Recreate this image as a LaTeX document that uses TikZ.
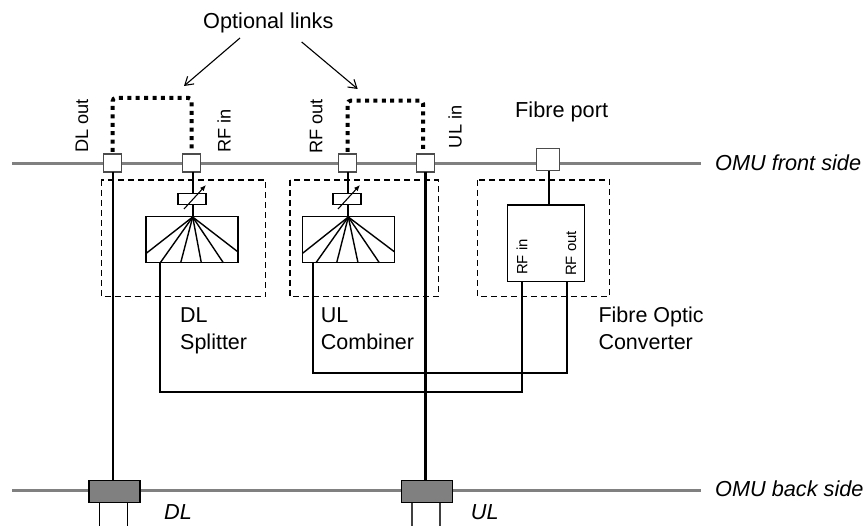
\documentclass[tikz,border=0pt]{standalone}
\usepackage{fontspec}
\setmainfont{Liberation Sans}
\usetikzlibrary{arrows.meta}
\tikzset{
 x=1pt,y=-1pt,
 rail/.style={draw=black!50,line width=3pt},
 wire/.style={draw=black,line width=2.2pt},
 dashbox/.style={draw=black,line width=1.1pt,dash pattern=on 6pt off 4pt},
 link/.style={draw=black,line width=4pt,dash pattern=on 4pt off 4.4pt,rounded corners=3pt},
 lab/.style={inner sep=0pt,anchor=base west,font=\fontsize{21.7}{27}\selectfont},
 rot/.style={inner sep=0pt,rotate=90,anchor=base west,font=\fontsize{18.2}{22}\selectfont},
 small/.style={inner sep=0pt,rotate=90,anchor=base west,font=\fontsize{14.9}{18}\selectfont},
 twoline/.style={inner sep=0pt,align=left,anchor=north west,font=\fontsize{21.5}{27}\selectfont},
 side/.style={lab,font=\fontsize{21.7}{27}\selectfont\itshape},
 port/.style={draw=black!70!white,line width=1.1pt,fill=white,inner sep=0pt,minimum width=18pt,minimum height=18pt},
 atten/.style={draw=black,line width=1.1pt,fill=white,inner sep=0pt,minimum width=28pt,minimum height=11pt},
 splitbox/.style={draw=black,line width=1.6pt,fill=white,inner sep=0pt,minimum width=92pt,minimum height=46pt},
 connector/.style={draw=black,line width=1.1pt,fill=black!50,inner sep=0pt,minimum width=51pt,minimum height=22pt},
 leg/.style={draw=black,line width=1.1pt},
 pointer/.style={draw=black,line width=1.1pt,-{Straight Barb[length=8pt,width=10pt]}},
}
\begin{document}
\begin{tikzpicture}
\useasboundingbox (0,0) rectangle (864,526);
\coordinate (fl) at (12,164); \coordinate (fr) at (700.7,164);
\coordinate (bl) at (12,490); \coordinate (br) at (700.7,490);
\draw[rail] (fl) -- (fr);
\draw[rail] (bl) -- (br);

% dashed enclosures
\draw[dashbox] (101.3,180) rectangle (265.7,296.7);
\draw[dashbox] (290,180) rectangle (438.3,296.7);
\draw[dashbox] (477.7,180) rectangle (609.5,296.7);

% front ports
\node[port] (p1) at (112.8,163) {};
\node[port] (p2) at (191.7,163) {};
\node[port] (p3) at (347.2,163) {};
\node[port] (p4) at (425.5,163) {};
\node[port,minimum width=22.6pt,minimum height=22.6pt] (p5) at (548,159.4) {};

% back connectors
\node[connector] (c1) at (114.5,491.7) {};
\node[connector] (c2) at (426.8,491.7) {};
\coordinate (c1a) at (99.3,526); \coordinate (c1b) at (127.3,526);
\coordinate (c2a) at (412,526); \coordinate (c2b) at (440,526);
\draw[leg] (c1a) -- (c1a |- c1.south);
\draw[leg] (c1b) -- (c1b |- c1.south);
\draw[leg,draw=black!75] (c2a) -- (c2a |- c2.south);
\draw[leg,draw=black!75] (c2b) -- (c2b |- c2.south);

% splitter and combiner
\node[splitbox] (s1) at (191.7,239.7) {};
\node[splitbox] (s2) at (348.3,239.7) {};
\node[atten] (a1) at (192,199) {};
\node[atten] (a2) at (347,199) {};

% converter
\node[draw=black,line width=1.1pt,fill=white,inner sep=0pt,minimum width=76.7pt,minimum height=76.3pt] (conv) at (545.7,243.2) {};

% fans
\coordinate (h1) at (192.7,217);
\coordinate (h2) at (348.3,217);
\foreach \p in {(146,253.5),(160.3,262.7),(180.7,262.7),(201.3,262.7),(223.3,262.7),(237.7,251.7)}
  \draw[black,line width=1.4pt] (h1) -- \p;
\foreach \p in {(302.3,253.5),(316,262.7),(336.7,262.7),(358,262.7),(379.3,262.7),(394.3,251.7)}
  \draw[black,line width=1.4pt] (h2) -- \p;

% wires
\draw[wire] (112.7,172) -- (112.7,481);
\draw[wire] (425.4,172) -- (425.4,481);
\draw[wire] (192.7,172) -- (192.7,193.5);
\draw[wire] (192.7,204.5) -- (192.7,217);
\draw[wire] (348.3,172) -- (348.3,193.5);
\draw[wire] (348.3,204.5) -- (348.3,217);
\draw[wire] (549,171) -- (549,205);
\draw[wire,line join=miter] (160.3,263) -- (160.3,392) -- (522,392) -- (522,281.5);
\draw[wire,line join=miter] (313.3,263) -- (313.3,373) -- (567.3,373) -- (567.3,281.5);

% variable attenuator arrows
\draw[draw=black,line width=1.1pt,-{Latex[length=6pt,width=5pt]}] (184,209) -- (206,185);
\draw[draw=black,line width=1.1pt,-{Latex[length=6pt,width=5pt]}] (338,209) -- (360,185);

% optional links
\draw[link] (112.7,152) -- (112.7,98) -- (191.5,98) -- (191.5,152);
\draw[link] (347.7,152) -- (347.7,100.7) -- (423,100.7) -- (423,152);

% labels
\node[lab] (t0) at (203,29) {Optional links};
\coordinate (a1s) at (240,38); \coordinate (a1e) at (184,86);
\coordinate (a2s) at (301.7,42); \coordinate (a2e) at (357.7,89);
\draw[pointer] (a1s) -- (a1e);
\draw[pointer] (a2s) -- (a2e);
\node[rot] (t1) at (88,153) {DL out};
\node[rot] (t2) at (230.7,153) {RF in};
\node[rot] (t3) at (322.3,154) {RF out};
\node[rot] (t4) at (461.7,148.3) {UL in};
\node[lab] (t5) at (515,118) {Fibre port};
\node[small] (t6) at (527.3,275) {RF in};
\node[small] (t7) at (576,276) {RF out};
\node[twoline] (t8) at (180,308) {DL\\Splitter};
\node[twoline] (t9) at (320.7,308) {UL\\Combiner};
\node[twoline] (t10) at (598.3,307) {Fibre Optic\\Converter};
\node[side] (t11) at (715,170.7) {OMU front side};
\node[side] (t12) at (715,496.7) {OMU back side};
\node[side] (t13) at (164,519.3) {DL};
\node[side] (t14) at (470.7,519.3) {UL};
\end{tikzpicture}
\end{document}
